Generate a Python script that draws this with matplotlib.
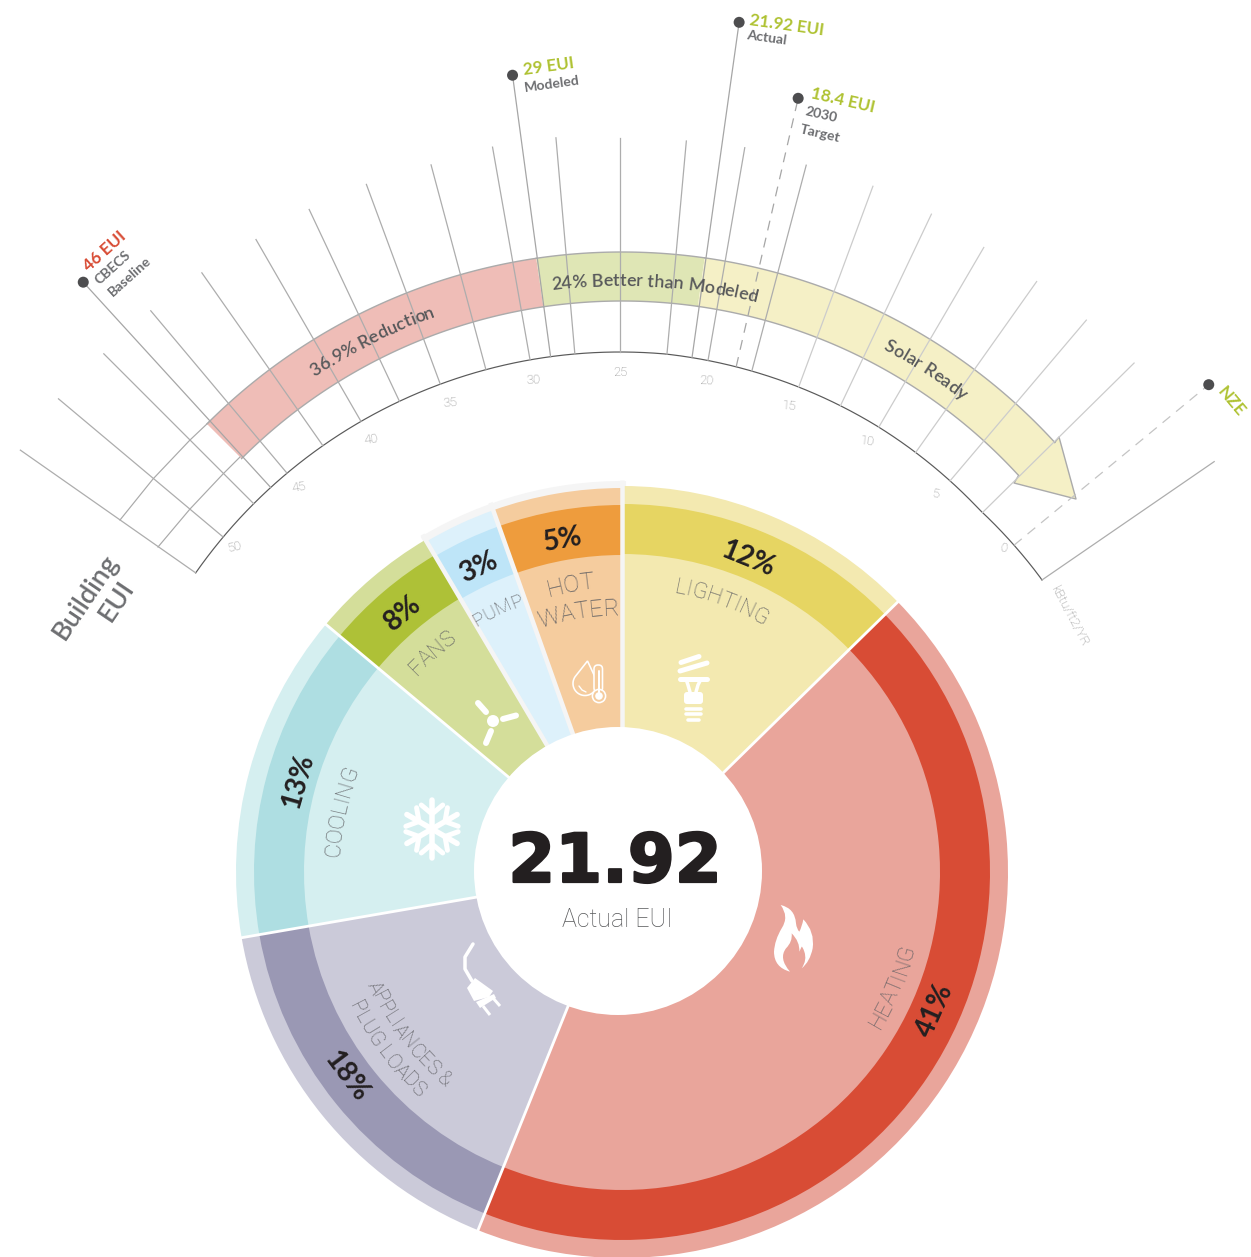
import numpy as np
import matplotlib
matplotlib.use("Agg")
import matplotlib.pyplot as plt
import matplotlib.patheffects as pe
from matplotlib.patches import Wedge, Polygon, Circle, PathPatch, FancyBboxPatch
from matplotlib.path import Path
from matplotlib.font_manager import FontProperties

# ---------- data ----------
categories = ["LIGHTING", "HEATING", "APPLIANCES", "COOLING", "FANS", "PUMP", "HOT WATER"]
percent = [12, 41, 18, 13, 8, 3, 5]
span_deg = [45.6, 156.3, 58.3, 49.7, 19.5, 11.0, 19.6]   # drawn sector size
light_col = ["#F3E9B0", "#E9A59B", "#CBCAD9", "#D5EFF0", "#D4DE9A", "#DDF1FB", "#F5CC9E"]
dark_col = ["#E6D562", "#D84C35", "#9A98B4", "#AEDEE2", "#AEC137", "#BEE5F8", "#EE9C3D"]

scale_ticks = [0, 5, 10, 15, 20, 25, 30, 35, 40, 45, 50]
scale_label_r = [500, 491, 495, 494, 497, 498, 497, 497, 497, 500, 503]
grid_eui = [52.5, 50, 47.5, 45, 42.5, 40, 37.6, 35.15, 32.5, 30, 27.5, 25, 22.4, 20.1, 17.6, 14.85,
            12.3, 9.85, 7.35, 4.85, 2.3, -2.75]
grid_top = [732, 733, 730, 730, 729, 728, 730, 731, 730, 734, 735, 732, 732, 733, 729, 729,
            726, 721, 721, 721, 722, 721]

marker_eui = [46.2, 28.85, 21.0, 18.5, -0.25]
marker_top = [796, 802, 856, 792, 763]
marker_dash = [False, False, False, True, True]

band_eui = [46, 29, 21.92, 0]
band_deg = [-45, -8.4, 8.1, 47.5]
band_col = ["#EFBDB7", "#DFE6B5", "#F5F0C6"]

# ---------- canvas ----------
W, H = 1251, 1257
fig = plt.figure(figsize=(W / 100, H / 100), dpi=100)
ax = fig.add_axes([0, 0, 1, 1])
ax.set_xlim(0, W)
ax.set_ylim(H, 0)
ax.axis("off")
PX = 0.72  # points per pixel
FAM = ["Lato", "DejaVu Sans"]
THIN = ["Roboto", "DejaVu Sans"]
CX, CY = 622, 872         # donut centre
SX, SY = 620, 870         # scale centre
BX, BY = 622, 839         # band centre


def pol(cx, cy, deg, r):
    a = np.radians(deg)
    return cx + r * np.sin(a), cy - r * np.cos(a)


def wedge(r, a1, a2, col, c=(CX, CY), z=2):
    ax.add_patch(Wedge(c, r, a1 - 90, a2 - 90, fc=col, ec="none", lw=0, zorder=z))


def eui2deg(v):
    return (25 - v) * 2.0


def arc_r(a):
    # the printed scale arc is not quite concentric: its radius
    return np.interp(a, [-55, 5, 30, 45, 55], [518, 518, 513, 509, 512])


# ---------- donut ----------
wedge(391, -31, 0.6, "#F5F5F5", z=1)
start = 0.0
edges = []
for i, s in enumerate(span_deg):
    a1, a2 = start, start + s
    wedge(386 if i < 5 else 384, a1, a2, light_col[i])
    wedge(368 if i != 6 and i != 5 else 367, a1, a2, dark_col[i], z=3)
    wedge(318 if i < 5 else 317, a1, a2, light_col[i], z=4)
    edges.append(a2)
    start = a2
for k, a in enumerate(edges):
    gray = k >= 4
    x0, y0 = pol(CX, CY, a, 130)
    x1, y1 = pol(CX, CY, a, 392 if gray else 388)
    ax.plot([x0, x1], [y0, y1], color="#F5F5F5" if gray else "white",
            lw=(4.5 if gray else 2.8) * PX, zorder=5, solid_capstyle="butt")
ax.add_patch(Circle((618, 871), 144, fc="white", ec="none", zorder=6))

pct_pos = [(748, 559, -22), (935, 1010, 66), (346, 1076, -53), (298, 781, 74),
           (403, 613, 40), (478, 567, 25), (563, 540, 10)]
for p, (x, y, rot) in zip(percent, pct_pos):
    ax.text(x, y, f"{p}%", fontsize=28 * PX, family=FAM, weight="bold", color="#231F20",
            ha="center", va="center", rotation=rot, rotation_mode="anchor", zorder=8)

rend = fig.canvas.get_renderer()


def curved(s, cx, cy, mid, r, size, color, family=FAM, weight="normal", inward=False, z=8, track=1.0):
    """Text along a circle: mid = clockwise degrees of text centre, r = baseline radius."""
    fp = FontProperties(family=family, size=size, weight=weight)
    wid = lambda t: rend.get_text_width_height_descent(t, fp, False)[0]
    total = wid(s) * track
    for i, ch in enumerate(s):
        pos = (wid(s[:i]) + wid(ch) / 2) * track - total / 2
        d = np.degrees(pos / r)
        ang = mid - d if inward else mid + d
        x, y = pol(cx, cy, ang, r)
        rot = 180 - ang if inward else -ang
        ax.text(x, y, ch, fontproperties=fp, color=color, ha="center", va="baseline",
                rotation=rot, rotation_mode="anchor", zorder=z)


LAB = "#5E5E62"
kw = dict(family=THIN, weight="light")
curved("LIGHTING", CX, CY, 20.2, 284, 22 * PX, LAB, **kw)
curved("HEATING", CX, CY, 113, 302, 22 * PX, LAB, inward=True, **kw)
curved("APPLIANCES &", CX, CY, 232.8, 279, 20 * PX, LAB, inward=True, **kw)
curved("PLUG LOADS", CX, CY, 233, 304, 20.5 * PX, LAB, inward=True, **kw)
curved("COOLING", CX, CY, -77.8, 283, 22 * PX, LAB, **kw)
curved("FANS", CX, CY, -40.8, 284, 22 * PX, LAB, **kw)
curved("PUMP", CX, CY, -25.5, 285, 19.5 * PX, LAB, **kw)
curved("HOT", CX, CY, -10.2, 285, 24 * PX, LAB, **kw)
curved("WATER", CX, CY, -9.6, 257, 24 * PX, LAB, **kw)

ax.text(615, 882, "21.92", fontsize=67.5 * PX, family="DejaVu Sans", weight="bold", color="#231F20",
        ha="center", va="baseline", zorder=8,
        path_effects=[pe.withStroke(linewidth=1.6, foreground="#231F20")])
ax.text(617, 920, "Actual EUI", fontsize=25 * PX, family=THIN, weight="light", color="#58595B",
        ha="center", va="center", zorder=8)

# ---------- band with arrow ----------
n = 80
for i, col in enumerate(band_col):
    th = np.linspace(band_deg[i], band_deg[i + 1], n)
    ox, oy = pol(BX, BY, th, 587)
    ix, iy = pol(BX, BY, th, 538)
    if i == 2:
        pts = list(zip(ox, oy)) + [(1059, 437), (1076, 499), (1014, 483)] + list(zip(ix[::-1], iy[::-1]))
    else:
        pts = list(zip(ox, oy)) + list(zip(ix[::-1], iy[::-1]))
    ax.add_patch(Polygon(pts, closed=True, fc=col, ec="none", zorder=1))
    ax.plot(ox, oy, color="#ABABAB", lw=1.4 * PX, zorder=1.5)
    ax.plot(ix, iy, color="#ABABAB", lw=1.4 * PX, zorder=1.5)
ax.plot([ox[-1], 1059, 1076, 1014, ix[-1]], [oy[-1], 437, 499, 483, iy[-1]],
        color="#ABABAB", lw=1.4 * PX, zorder=1.5)
# extensions of the band's edges to the end of the scale
ax.plot([209, 190, 153, 120], [422, 440, 479, 520], color="#AAAAAA", lw=1.2 * PX, zorder=1.2)
ax.plot([240, 223, 190, 158], [457, 474, 509, 547], color="#AAAAAA", lw=1.2 * PX, zorder=1.2)

# ---------- scale ----------
th = np.linspace(-55, 55.5, 300)
ax.plot(*pol(SX, SY, th, arc_r(th)), color="#5A5A5A", lw=1.2 * PX, zorder=2)
for v, top in zip(grid_eui, grid_top):
    a = eui2deg(v)
    x0, y0 = pol(SX, SY, a, arc_r(a))
    x1, y1 = pol(SX, SY, a, top)
    col = "#CCCCCC" if 0 <= v < 15 else "#ADADAD"
    ax.plot([x0, x1], [y0, y1], color=col, lw=1.25 * PX, zorder=2)
for v, r in zip(scale_ticks, scale_label_r):
    a = eui2deg(v)
    x, y = pol(SX, SY, a, r)
    ax.text(x, y, str(v), fontsize=13 * PX, family=THIN, weight="light", color="#8A8A8A",
            ha="center", va="center", rotation=-a * 0.25, zorder=3)

for v, top, dash in zip(marker_eui, marker_top, marker_dash):
    a = eui2deg(v)
    x0, y0 = pol(SX, SY, a, arc_r(a))
    x1, y1 = pol(SX, SY, a, top)
    ax.plot([x0, x1], [y0, y1], color="#C4C4C4" if dash and v < 1 else "#A6A6A6", lw=1.25 * PX, zorder=2,
            linestyle=(0, (8, 6)) if dash else "-")
    ax.add_patch(Circle((x1, y1), 5.5, fc="#4D4D4F", ec="none", zorder=4))

GREEN = "#AFC232"
SUB = "#6D6E71"
labels = [("46 EUI", 105, 251, 42, "#D84C35", 17, "bold"), ("CBECS", 113, 268, 42, SUB, 14, "bold"),
          ("Baseline", 130, 276, 42, SUB, 14, "bold"),
          ("29 EUI", 549, 66, 8, GREEN, 17, "bold"), ("Modeled", 552, 84, 8, SUB, 14, "bold"),
          ("21.92 EUI", 787, 25, -8, GREEN, 17, "bold"), ("Actual", 767, 38, -8, SUB, 14, "bold"),
          ("18.4 EUI", 843, 100, -13, GREEN, 17, "bold"), ("2030", 821, 115, -13, SUB, 14, "bold"),
          ("Target", 820, 134, -13, SUB, 14, "bold"), ("NZE", 1231, 402, -50, GREEN, 17, "bold")]
for s, x, y, rot, col, size, w in labels:
    ax.text(x, y, s, fontsize=size * PX, family=FAM, weight=w, color=col, ha="center", va="center",
            rotation=rot, rotation_mode="anchor", zorder=5)
ax.text(1070, 616, "kBtu/ft2/YR", fontsize=13 * PX, family=THIN, weight="light", color="#8A8A8A",
        ha="center", va="center", rotation=-62, rotation_mode="anchor", zorder=5)
ax.text(86, 597, "Building", fontsize=27 * PX, family=FAM, weight="semibold", color="#6D6E71",
        ha="center", va="center", rotation=56, rotation_mode="anchor", zorder=5)
ax.text(117, 601, "EUI", fontsize=27 * PX, family=FAM, weight="semibold", color="#6D6E71",
        ha="center", va="center", rotation=56, rotation_mode="anchor", zorder=5)

TXT = "#58595B"
curved("36.9% Reduction", BX, BY, -26.6, 555, 18 * PX, TXT, weight="semibold")
curved("24% Better than Modeled", BX, BY, 3.4, 553, 18 * PX, TXT, weight="semibold")
curved("Solar Ready", BX, BY, 32.9, 555, 18 * PX, TXT, weight="semibold")

# ---------- icons (white pictograms) ----------
IZ = 9


def wl(xs, ys, lw, cap="round", col="white"):
    ax.plot(xs, ys, color=col, lw=lw * PX, solid_capstyle=cap, solid_joinstyle="round", zorder=IZ)


# bulb
wl([681, 699], [662.5, 656.5], 5)
wl([680, 707], [671, 663], 5)
wl([680, 707], [679, 679], 5)
wl([690, 688, 686], [692, 685, 679], 3.5)
wl([696, 698, 701], [692, 685, 679], 3.5)
ax.add_patch(FancyBboxPatch((684, 692), 19, 12, boxstyle="round,pad=0,rounding_size=3", fc="white", ec="none", zorder=IZ))
for y, a, b in [(708.5, 686, 701), (714, 686, 701), (720, 688, 699)]:
    wl([a, b], [y, y], 3.6)

# fan
ax.add_patch(Circle((493, 721), 6, fc="white", ec="none", zorder=IZ))
for (a, b, c, d) in [(486, 712, 478, 703), (503, 719, 516, 715.5), (491, 731, 486, 743)]:
    wl([a, c], [b, d], 6)

# snowflake
sc = (432, 829)
for ang in (0, 60, 120, 180, 240, 300):
    wl(*zip(sc, pol(*sc, ang, 29)), 5.5)
    for side in (-1, 1):
        p = pol(*sc, ang, 15)
        q = pol(*p, ang + side * 50, 14)
        wl(*zip(p, q), 5)

# plug
wl([473, 465, 465, 472], [944, 957, 969, 981], 3.5)
ax.add_patch(Polygon([(475, 978), (493, 991), (489, 997), (474, 1001), (467, 988)], fc="white", ec="none", zorder=IZ))
ax.add_patch(Polygon([(476, 1002), (494, 994), (496, 998), (480, 1008)], fc="white", ec="none", zorder=IZ))
wl([483, 490], [1006, 1015], 3, cap="butt")
wl([493, 500], [998, 1006], 3, cap="butt")

# flame
M, L, C = Path.MOVETO, Path.LINETO, Path.CURVE3
flame = [(M, (92, 45)),
         (C, (135, 55)), (C, (138, 100)), (C, (140, 118)), (C, (148, 125)),
         (C, (156, 110)), (C, (160, 88)), (C, (195, 125)), (C, (188, 175)),
         (C, (180, 215)), (C, (155, 235)), (C, (172, 210)), (C, (163, 185)),
         (C, (158, 170)), (C, (155, 170)), (L, (148, 185)), (C, (150, 155)), (C, (125, 130)),
         (C, (128, 155)), (C, (108, 175)), (C, (85, 205)), (C, (120, 245)),
         (C, (72, 232)), (C, (72, 185)), (C, (74, 150)), (C, (95, 115)),
         (C, (118, 80)), (C, (92, 45))]
fl_xy = [(750 + p[0] / 3, 890 + p[1] / 3) for _, p in flame]
ax.add_patch(PathPatch(Path(fl_xy, [c for c, _ in flame]), fc="white", ec="none", zorder=IZ))

# droplet + thermometer
dc = (585.0, 683.5)
tip = (587.5, 661)
arc = np.linspace(np.radians(-35), np.radians(215), 60)
dx = dc[0] + 12 * np.cos(arc)
dy = dc[1] + 12 * np.sin(arc)
pts = [tip] + list(zip(dx, dy)) + [tip]
ax.add_patch(Polygon(pts, closed=True, fc="none", ec="white", lw=1.6 * PX, zorder=IZ))
ax.add_patch(FancyBboxPatch((594, 665), 8.5, 27, boxstyle="round,pad=0,rounding_size=4", fc=light_col[6], ec="white", lw=1.6 * PX, zorder=IZ))
ax.add_patch(Circle((599, 696), 6.6, fc=light_col[6], ec="white", lw=1.6 * PX, zorder=IZ))
ax.add_patch(Circle((599, 696), 3.8, fc="white", ec="none", zorder=IZ + 0.1))
wl([599, 599], [671, 695], 2)
wl([579, 582, 586], [686, 690, 692], 1.4)

fig.savefig("out.png", dpi=100, facecolor="white")
